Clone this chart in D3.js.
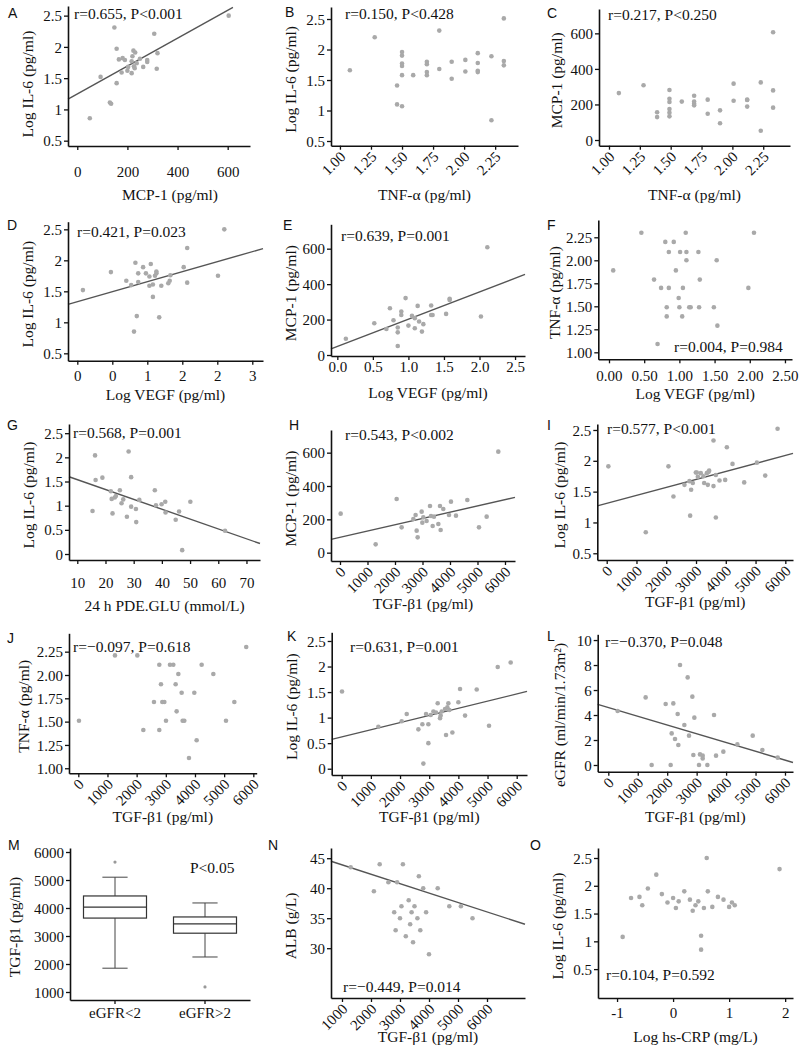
<!DOCTYPE html>
<html><head><meta charset="utf-8">
<script src="https://cdn.jsdelivr.net/npm/d3@7"></script>
<style>body{margin:0;background:#fff} svg{display:block}</style>
</head><body>
<script>
// ---------------- DATA ----------------
// A
const aMCP = [50,93,130,135,148,157,157,166,177,181,190,200,203,217,220,224,226,229,231,237,217,250,263,279,279,317,320,307,604];
const aIL6 = [0.86,1.52,1.11,1.09,2.31,1.97,1.42,1.80,1.59,1.82,1.79,1.62,1.68,1.77,1.85,1.94,1.69,1.66,1.91,1.74,1.58,1.81,1.68,1.76,1.79,1.65,1.90,2.21,2.50];
const aFit = [1.248, 0.00223];
// B
const bTNF = [1.08,1.28,1.46,1.46,1.50,1.50,1.50,1.50,1.50,1.50,1.59,1.70,1.70,1.70,1.70,1.80,1.80,1.90,1.90,2.01,2.01,2.11,2.11,2.11,2.11,2.22,2.22,2.32,2.32,2.32];
const bIL6 = [1.66,2.20,1.41,1.10,1.96,1.90,1.77,1.73,1.58,1.07,1.58,1.80,1.76,1.63,1.58,2.31,1.68,1.80,1.52,1.83,1.64,1.94,1.78,1.65,1.63,1.89,0.84,2.51,1.81,1.74];
// C
const cTNF = [1.08,1.28,1.39,1.39,1.49,1.49,1.49,1.49,1.49,1.49,1.59,1.69,1.69,1.69,1.69,1.80,1.80,1.90,1.90,2.01,2.01,2.12,2.12,2.12,2.23,2.23,2.33,2.33,2.33];
const cMCP = [264,308,156,129,281,232,214,174,154,133,216,249,216,204,195,227,148,167,94,317,221,227,225,188,324,52,606,279,182];
// D
const dVEGF = [0.08,0.48,0.70,0.77,0.83,0.81,0.85,0.87,0.87,0.94,0.98,1.03,1.03,1.05,1.08,1.08,1.11,1.13,1.13,1.17,1.20,1.30,1.32,1.33,1.52,1.57,1.57,2.01,2.10];
const dIL6 = [1.52,1.81,1.67,1.60,1.96,0.85,1.10,1.79,1.65,1.89,1.79,1.74,1.59,1.94,1.61,1.41,1.75,1.82,1.79,1.08,1.59,1.63,1.67,1.76,1.89,1.64,2.20,1.75,2.50];
const dFit = [1.332, 0.323];
// E
const eVEGF = [0.12,0.52,0.69,0.74,0.79,0.85,0.85,0.85,0.90,0.90,0.96,1.00,1.05,1.09,1.09,1.13,1.15,1.19,1.21,1.32,1.32,1.34,1.53,1.58,1.58,2.02,2.11];
const eMCP = [92,179,147,264,196,128,155,51,245,226,321,166,221,208,151,277,189,132,174,279,226,226,232,317,311,217,608];
const eFit = [48, 154];
// F
const fVEGF = [0.06,0.46,0.64,0.69,0.74,0.80,0.82,0.82,0.85,0.85,0.92,0.95,0.99,1.00,1.01,1.05,1.04,1.09,1.10,1.10,1.14,1.16,1.27,1.28,1.29,1.49,1.53,1.54,1.98,2.06];
const fTNF = [1.89,2.30,1.79,1.09,1.70,2.20,1.49,1.39,2.09,1.70,2.20,1.89,1.59,1.49,2.09,1.70,1.39,2.30,2.09,2.00,1.49,1.49,2.09,1.49,1.79,1.49,2.00,1.29,1.70,2.30];
// G
const gGLU = [15.4,16.3,16.5,18.9,21.9,22.2,22.5,23.3,23.7,25.1,25.7,26.3,27.6,28.2,29.1,29.1,30.8,30.9,32.0,37.5,37.9,39.9,41.2,41.3,44.9,46.1,47.2,50.1,62.4];
const gIL6 = [0.89,2.04,1.53,1.58,1.30,1.14,0.84,1.17,1.20,1.32,1.05,1.13,0.77,2.12,1.59,0.98,0.93,0.66,1.12,1.32,1.01,1.03,1.08,0.86,0.71,0.88,0.08,1.08,0.48];
const gFit = [1.743, -0.0204];
// H
const hTGF = [24,1297,2060,2242,2667,2750,2788,2824,2970,2994,3030,3150,3273,3309,3370,3418,3576,3636,3660,3757,3964,4036,4218,4630,5054,5333,5757];
const hMCP = [234,50,322,152,202,226,132,92,246,180,212,190,280,220,160,216,172,280,136,262,226,306,222,316,152,216,606];
const hFit = [92, 0.0377];
// I
const iTGF = [56,1312,2074,2242,2612,2780,2803,2836,2892,2993,3027,3061,3161,3251,3273,3363,3397,3419,3442,3587,3587,3666,3666,3789,3980,4036,4226,4619,5045,5325,5740];
const iIL6 = [1.91,0.84,1.91,1.42,1.61,1.67,1.11,1.53,1.64,1.81,1.81,1.74,1.80,1.75,1.64,1.80,1.61,1.82,1.84,2.33,1.59,1.77,1.08,1.68,1.69,2.22,1.95,1.65,1.97,1.76,2.52];
const iFit = [1.309, 0.0001296];
// J
const jTGF = [23,1257,2023,2229,2594,2777,2777,2834,2880,2949,3006,3143,3257,3337,3371,3429,3543,3577,3634,3794,4057,3977,4229,4629,5063,5349,5757];
const jTNF = [1.51,2.21,2.21,1.41,1.71,2.11,1.41,1.90,1.71,1.71,1.51,2.11,2.11,1.90,1.61,2.01,1.81,1.51,1.51,1.11,1.30,1.81,2.11,2.01,1.51,1.71,2.30];
// K
const kTGF = [11,1257,2057,2229,2629,2766,2800,2891,2971,2971,3051,3143,3234,3291,3371,3394,3429,3543,3577,3623,3657,3691,3794,4000,4057,4229,4629,5051,5349,5794];
const kIL6 = [1.51,0.82,0.93,1.07,0.77,0.87,0.10,1.07,0.87,0.50,1.05,1.12,1.10,1.28,0.99,1.04,1.12,1.17,0.66,1.20,1.28,1.15,0.71,1.30,1.56,1.04,1.55,0.84,1.99,2.08];
const kFit = [0.623, 0.00014];
// L
const lTGF = [317,1268,1472,1948,2118,2152,2208,2265,2356,2378,2435,2582,2695,2741,2854,2888,2922,3080,3114,3205,3205,3364,3590,3658,3907,4383,4904,5232,5753];
const lEGFR = [4.32,5.41,0,4.88,0,2.53,4.93,2.08,4.08,1.6,8.0,3.2,7.01,2.35,5.47,0.8,3.79,0,0.85,0.75,0.53,0,4.0,0.75,1.07,1.65,2.35,1.2,0.59];
const lFit = [4.60, -0.000701];
// M (box plot)
const mGroups = ["eGFR<2","eGFR>2"];
const mMin = [1850,2250], mQ1 = [3640,3100], mMed = [4030,3430], mQ3 = [4430,3680], mMax = [5100,4180];
const mOut = [[5640],[1180]];
// N
const nTGF = [1300,2100,2300,2600,2800,2850,2900,3000,3050,3100,3200,3300,3350,3400,3450,3500,3600,3650,3700,3800,3900,4000,4300,4700,5100,5500];
const nALB = [43.5,39.5,44,41,36,33,41,35,37,44,32,38,34,36,31,37,35,42,33,40,36,29,40,37,37,35];
const nFit = [45.47, -0.00157];
// O
const oCRP = [-0.9,-0.75,-0.6,-0.55,-0.45,-0.3,-0.2,-0.1,0.0,0.05,0.1,0.2,0.3,0.35,0.4,0.45,0.5,0.5,0.55,0.6,0.62,0.7,0.8,0.9,1.0,1.05,1.1,1.9];
const oIL6 = [1.08,1.78,1.80,1.65,1.95,2.2,1.85,1.7,1.78,1.6,1.72,1.9,1.75,1.55,1.65,1.72,1.1,0.85,1.6,2.5,1.9,1.62,1.8,1.75,1.62,1.7,1.65,2.3];

// tick values / labels
const tIL6 = [0.5,1,1.5,2,2.5], tIL6L = ["0.5","1","1.5","2","2.5"];
const tIL6z = [0,0.5,1,1.5,2,2.5], tIL6zL = ["0","0.5","1","1.5","2","2.5"];
const tMCP = [0,200,400,600], tMCPL = ["0","200","400","600"];
const tTNF = [1,1.25,1.5,1.75,2,2.25], tTNFL = ["1.00","1.25","1.50","1.75","2.00","2.25"];
const tVEGFd = [0,0.5,1,1.5,2,2.5], tVEGFdL = ["0","0","1","2","2","3"];
const tVEGFe = [0,0.5,1,1.5,2,2.5], tVEGFeL = ["0.0","0.5","1.0","1.5","2.0","2.5"];
const tVEGFf = [0,0.5,1,1.5,2,2.5], tVEGFfL = ["0.00","0.50","1.00","1.50","2.00","2.50"];
const tGLU = [10,20,30,40,50,60,70], tGLUL = ["10","20","30","40","50","60","70"];
const tTGF = [0,1000,2000,3000,4000,5000,6000], tTGFL = ["0","1000","2000","3000","4000","5000","6000"];
const tTGFn = [1000,2000,3000,4000,5000,6000], tTGFnL = ["1000","2000","3000","4000","5000","6000"];
const tEGFR = [0,2,4,6,8,10], tEGFRL = ["0","2","4","6","8","10"];
const tM = [1000,2000,3000,4000,5000,6000], tML = ["1000","2000","3000","4000","5000","6000"];
const tALB = [30,35,40,45], tALBL = ["30","35","40","45"];
const tCRP = [-1,0,1,2], tCRPL = ["-1","0","1","2"];

// ---------------- DRAW ----------------
const svg = d3.select("body").append("svg").attr("width",800).attr("height",1048);
svg.append("rect").attr("width",800).attr("height",1048).attr("fill","#fff");
const SERIF = "'Liberation Serif','Times New Roman',serif";
const SANS = "'Liberation Sans',Arial,sans-serif";
const PT = "#a9a9a9", LN = "#555";

function styleAxis(g){
  g.attr("font-family",SERIF).attr("font-size",15);
  g.select(".domain").attr("stroke","#111").attr("stroke-width",1.6);
  g.selectAll(".tick line").attr("stroke","#111").attr("stroke-width",1.3);
  g.selectAll(".tick text").attr("fill","#111");
}

function panel(c){
  const g = svg.append("g");
  const x = d3.scaleLinear().domain(c.xd).range([c.l,c.r]);
  const y = d3.scaleLinear().domain(c.yd).range([c.b,c.t]);
  if (c.fit){
    const ex = c.fitX || c.xd;
    g.append("line")
      .attr("x1",x(ex[0])).attr("y1",y(c.fit[0]+c.fit[1]*ex[0]))
      .attr("x2",x(ex[1])).attr("y2",y(c.fit[0]+c.fit[1]*ex[1]))
      .attr("stroke",LN).attr("stroke-width",1.4);
  }
  g.append("g").selectAll("circle").data(c.xs.map((v,i)=>[v,c.ys[i]])).join("circle")
    .attr("cx",d=>x(d[0])).attr("cy",d=>y(d[1])).attr("r",2.3).attr("fill",PT);
  const gx = g.append("g").attr("transform",`translate(0,${c.b})`)
    .call(d3.axisBottom(x).tickValues(c.xt).tickFormat((d,i)=>c.xl[i]).tickSize(4).tickSizeOuter(0));
  styleAxis(gx);
  if (c.rot){
    gx.selectAll(".tick text").attr("transform","translate(6,12) rotate(-45)")
      .attr("text-anchor","end").attr("x",0).attr("y",0).attr("dy",null);
  } else {
    gx.selectAll(".tick text").attr("y",c.xg).attr("dy",null);
  }
  const gy = g.append("g").attr("transform",`translate(${c.l},0)`)
    .call(d3.axisLeft(y).tickValues(c.yt).tickFormat((d,i)=>c.yl[i]).tickSize(4).tickSizeOuter(0));
  styleAxis(gy);
  gy.selectAll(".tick text").attr("x",-6).attr("dy","0.34em");
  titles(g,c);
}

function titles(g,c){
  g.append("text").attr("transform",`translate(${c.l-(c.ytOff||40)},${(c.t+c.b)/2+(c.ytDy||3)}) rotate(-90)`)
    .attr("text-anchor","middle").attr("dy","0.33em").attr("font-family",SERIF).attr("font-size",15.5)
    .attr("fill","#111").text(c.yTitle);
  g.append("text").attr("x",(c.l+c.r)/2+(c.xtDx||0)).attr("y",c.xtY)
    .attr("text-anchor","middle").attr("font-family",SERIF).attr("font-size",15.5)
    .attr("fill","#111").text(c.xTitle);
  if (c.note) g.append("text").attr("x",c.note[0]).attr("y",c.note[1]).attr("font-family",SERIF)
    .attr("font-size",15.5).attr("fill","#111").text(c.noteText);
  g.append("text").attr("x",c.lp[0]).attr("y",c.lp[1]).attr("font-family",SANS)
    .attr("font-size",14).attr("fill","#111").text(c.letter);
}

const IL6T = "Log IL-6 (pg/ml)", MCPT = "MCP-1 (pg/ml)", TNFT = "TNF-\u03b1 (pg/ml)",
      VEGFT = "Log VEGF (pg/ml)", TGFT = "TGF-\u03b21 (pg/ml)";

panel({letter:"A",lp:[8,18],l:68,r:250,t:6,b:146,xd:[-37,689],yd:[0.415,2.654],
  xs:aMCP,ys:aIL6,fit:aFit,fitX:[-37,621],xt:tMCP,xl:tMCPL,yt:tIL6,yl:tIL6L,xg:31,
  xTitle:MCPT,xtY:200,xtDx:11,yTitle:IL6T,ytDy:8,note:[74,19],noteText:"r=0.655, P<0.001"});
panel({letter:"B",lp:[285,17],l:331,r:518,t:7,b:145.7,xd:[0.928,2.434],yd:[0.423,2.697],
  xs:bTNF,ys:bIL6,xt:tTNF,xl:tTNFL,yt:tIL6,yl:tIL6L,rot:true,
  xTitle:TNFT,xtY:200,yTitle:IL6T,note:[345,19],noteText:"r=0.150, P<0.428"});
panel({letter:"C",lp:[547,18],l:599,r:790,t:9,b:145.7,xd:[0.919,2.467],yd:[-32,737],
  xs:cTNF,ys:cMCP,xt:tTNF,xl:tTNFL,yt:tMCP,yl:tMCPL,rot:true,ytOff:42,
  xTitle:TNFT,xtY:200,yTitle:MCPT,note:[608,20],noteText:"r=0.217, P<0.250"});
panel({letter:"D",lp:[7,230],l:68,r:263,t:221.7,b:360.7,xd:[-0.133,2.653],yd:[0.381,2.623],
  xs:dVEGF,ys:dIL6,fit:dFit,xt:tVEGFd,xl:tVEGFdL,yt:tIL6,yl:tIL6L,xg:20,
  xTitle:VEGFT,xtY:400,yTitle:IL6T,note:[77,237],noteText:"r=0.421, P=0.023"});
panel({letter:"E",lp:[283,230],l:331,r:525,t:224.3,b:356,xd:[-0.089,2.64],yd:[-5.6,737.6],
  xs:eVEGF,ys:eMCP,fit:eFit,xt:tVEGFe,xl:tVEGFeL,yt:tMCP,yl:tMCPL,xg:16,
  xTitle:VEGFT,xtY:398,yTitle:MCPT,note:[341,241],noteText:"r=0.639, P=0.001"});
panel({letter:"F",lp:[547,230],l:598.3,r:792,t:220,b:359.3,xd:[-0.152,2.6],yd:[0.924,2.438],
  xs:fVEGF,ys:fTNF,xt:tVEGFf,xl:tVEGFfL,yt:tTNF,yl:tTNFL,xg:21.7,ytOff:43,
  xTitle:VEGFT,xtY:399,yTitle:"TNF-\u03b1 (pg/ml)",note:[674,352],noteText:"r=0.004, P=0.984"});
panel({letter:"G",lp:[7,430],l:69,r:260,t:424,b:560,xd:[7.06,74.8],yd:[-0.124,2.69],
  xs:gGLU,ys:gIL6,fit:gFit,xt:tGLU,xl:tGLUL,yt:tIL6z,yl:tIL6zL,xg:28,
  xTitle:"24 h PDE.GLU (mmol/L)",xtY:611,yTitle:IL6T,note:[73,438],noteText:"r=0.568, P=0.001"});
panel({letter:"H",lp:[289,430],l:331,r:515,t:430,b:561,xd:[-327,6364],yd:[-50,736],
  xs:hTGF,ys:hMCP,fit:hFit,xt:tTGF,xl:tTGFL,yt:tMCP,yl:tMCPL,rot:true,
  xTitle:TGFT,xtY:609,yTitle:MCPT,note:[345,440],noteText:"r=0.543, P<0.002"});
panel({letter:"I",lp:[547,430],l:597.3,r:793,t:424,b:560,xd:[-316,6258],yd:[0.391,2.597],
  xs:iTGF,ys:iIL6,fit:iFit,xt:tTGF,xl:tTGFL,yt:tIL6,yl:tIL6L,rot:true,ytOff:37,
  xTitle:TGFT,xtY:607,yTitle:IL6T,note:[607,434],noteText:"r=0.577, P<0.001"});
panel({letter:"J",lp:[7,643],l:69,r:256.7,t:633.3,b:773.3,xd:[-319,6116],yd:[0.946,2.447],
  xs:jTGF,ys:jTNF,xt:tTGF,xl:tTGFL,yt:tTNF,yl:tTNFL,rot:true,ytOff:45,
  xTitle:TGFT,xtY:822,yTitle:"TNF-\u03b1 (pg/ml)",note:[73,652],noteText:"r=\u22120.097, P=0.618"});
panel({letter:"K",lp:[287,641],l:331.7,r:527,t:632.3,b:775,xd:[-343,6353],yd:[-0.123,2.67],
  xs:kTGF,ys:kIL6,fit:kFit,xt:tTGF,xl:tTGFL,yt:tIL6z,yl:tIL6zL,rot:true,
  xTitle:TGFT,xtY:822,yTitle:IL6T,note:[350,652],noteText:"r=0.631, P=0.001"});
panel({letter:"L",lp:[547,641],l:597.7,r:793,t:634.3,b:771.7,xd:[-360,6272],yd:[-0.536,10.46],
  xs:lTGF,ys:lEGFR,fit:lFit,xt:tTGF,xl:tTGFL,yt:tEGFR,yl:tEGFRL,rot:true,ytOff:38,
  xTitle:TGFT,xtY:822,yTitle:"eGFR (ml/min/1.73m\u00b2)",ytDy:12,note:[605,647],noteText:"r=\u22120.370, P=0.048"});

// M box plot
(function(){
  const c = {letter:"M",lp:[8,850],l:70,r:250,t:848,b:1000,yTitle:TGFT,ytOff:55,xTitle:"",xtY:0,note:[190,873],noteText:"P<0.05"};
  const g = svg.append("g");
  const y = d3.scaleLinear().domain([714,6143]).range([c.b,c.t]);
  const x = d3.scaleBand().domain(mGroups).range([c.l,c.r]).paddingInner(0.3).paddingOuter(0.15);
  mGroups.forEach((k,i)=>{
    const cx = x(k)+x.bandwidth()/2, w = x.bandwidth();
    g.append("line").attr("x1",cx).attr("x2",cx).attr("y1",y(mMin[i])).attr("y2",y(mQ1[i])).attr("stroke","#444");
    g.append("line").attr("x1",cx).attr("x2",cx).attr("y1",y(mQ3[i])).attr("y2",y(mMax[i])).attr("stroke","#444");
    g.append("line").attr("x1",cx-w*0.2).attr("x2",cx+w*0.2).attr("y1",y(mMin[i])).attr("y2",y(mMin[i])).attr("stroke","#444");
    g.append("line").attr("x1",cx-w*0.2).attr("x2",cx+w*0.2).attr("y1",y(mMax[i])).attr("y2",y(mMax[i])).attr("stroke","#444");
    g.append("rect").attr("x",x(k)).attr("width",w).attr("y",y(mQ3[i])).attr("height",y(mQ1[i])-y(mQ3[i]))
      .attr("fill","#fff").attr("stroke","#333").attr("stroke-width",1.2);
    g.append("line").attr("x1",x(k)).attr("x2",x(k)+w).attr("y1",y(mMed[i])).attr("y2",y(mMed[i])).attr("stroke","#333").attr("stroke-width",1.2);
    mOut[i].forEach(v=>g.append("circle").attr("cx",cx).attr("cy",y(v)).attr("r",1.6).attr("fill","#999"));
  });
  const gx = g.append("g").attr("transform",`translate(0,${c.b})`).call(d3.axisBottom(x).tickSize(4).tickSizeOuter(0));
  styleAxis(gx); gx.selectAll(".tick text").attr("y",18).attr("dy",null);
  const gy = g.append("g").attr("transform",`translate(${c.l},0)`)
    .call(d3.axisLeft(y).tickValues(tM).tickFormat((d,i)=>tML[i]).tickSize(4).tickSizeOuter(0));
  styleAxis(gy); gy.selectAll(".tick text").attr("x",-6).attr("dy","0.34em");
  titles(g,c);
})();

panel({letter:"N",lp:[268,850],l:331,r:525,t:848,b:998,xd:[621,7310],yd:[21.7,46.7],
  xs:nTGF,ys:nALB,fit:nFit,xt:tTGFn,xl:tTGFnL,yt:tALB,yl:tALBL,rot:true,
  xTitle:TGFT,xtY:1042,yTitle:"ALB (g/L)",note:[343,992],noteText:"r=\u22120.449, P=0.014"});
panel({letter:"O",lp:[530,850],l:598,r:793,t:848,b:998,xd:[-1.34,2.14],yd:[-0.02,2.68],
  xs:oCRP,ys:oIL6,xt:tCRP,xl:tCRPL,yt:tIL6,yl:tIL6L,xg:20,
  xTitle:"Log hs-CRP (mg/L)",xtY:1042,yTitle:IL6T,note:[606,980],noteText:"r=0.104, P=0.592"});
</script>
</body></html>
